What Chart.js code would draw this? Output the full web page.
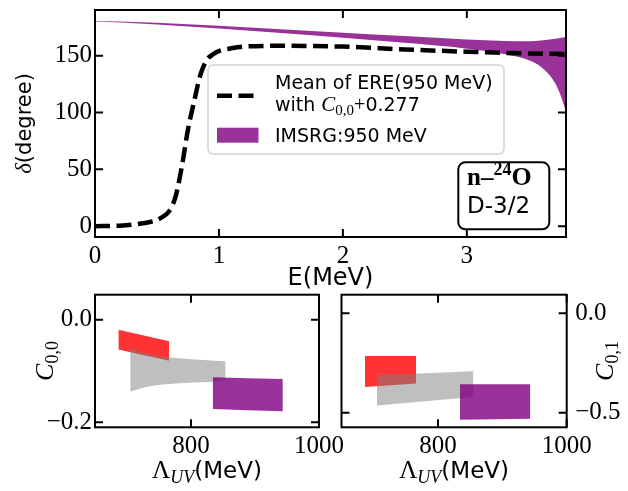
<!DOCTYPE html>
<html>
<head>
<meta charset="utf-8">
<script src="https://cdn.jsdelivr.net/npm/chart.js@4.4.1/dist/chart.umd.min.js"></script>
<style>
  html, body { margin: 0; padding: 0; background: #fff; }
  #wrap { position: relative; width: 628px; height: 491px; }
  #wrap canvas { position: absolute; left: 0; top: 0; }
</style>
</head>
<body>
<div id="wrap">
  <canvas id="phase" width="628" height="491"></canvas>
  <canvas id="c00" width="628" height="491"></canvas>
  <canvas id="c01" width="628" height="491"></canvas>
</div>
<script>
// --- Phasenverschiebung (oben) ---
const energy  = [0, 0.2, 0.3, 0.4, 0.5, 0.55, 0.6, 0.65, 0.7, 0.75, 0.8, 0.85, 0.9, 0.95, 1.0, 1.1, 1.2, 1.5, 2.0, 2.5, 3.0, 3.5, 3.8];
const ereMean = [0, 0.5, 1.3, 2.8, 5.5, 8.5, 13.5, 26, 52, 85, 110, 133, 146, 151, 154, 156.5, 158, 158.7, 158, 155.5, 153.5, 152, 151.5];

const bandE      = [0, 0.5, 1.0, 1.5, 2.0, 2.5, 3.0, 3.3, 3.5, 3.6, 3.7, 3.75, 3.8];
const imsrgUpper = [180.5, 179, 176.3, 173.3, 170.2, 167.3, 164.3, 163, 162.8, 163.3, 164.6, 165.5, 166.5];
const imsrgLower = [180, 177.5, 174, 170, 165.8, 161.3, 156.2, 151.5, 146, 140, 128, 117, 101];

const eTicks = [0, 1, 2, 3];
const deltaTicks = [0, 50, 100, 150];

// --- C_{0,0} / C_{0,1} gegen Lambda_UV (unten) ---
const lamRed = [686.5, 766];
const lamGrayC00 = [705, 730, 761, 790, 820, 854];
const lamGrayC01 = [705, 855];
const lamPurple = [834, 943.5];

const c00RedUpper = [-0.0195, -0.042];
const c00RedLower = [-0.058, -0.080];
const c00GrayUpper = [-0.055, -0.066, -0.0725, -0.076, -0.0785, -0.081];
const c00GrayLower = [-0.140, -0.131, -0.126, -0.1235, -0.122, -0.120];
const c00PurpleUpper = [-0.112, -0.1155];
const c00PurpleLower = [-0.174, -0.1785];

const c01RedUpper = [-0.2155, -0.2155];
const c01RedLower = [-0.371, -0.3535];
const c01GrayUpper = [-0.312, -0.291];
const c01GrayLower = [-0.463, -0.421];
const c01PurpleUpper = [-0.357, -0.357];
const c01PurpleLower = [-0.535, -0.530];

const lamTicks = [800, 1000];
const c00Ticks = [0.0, -0.2];
const c01Ticks = [0.0, -0.5];

// --- Stil ---
const W = 628, H = 491;
const SANS = "'DejaVu Sans'";
const SERIF = "'Liberation Serif'";
const tickFont = { family: 'Liberation Serif', size: 25 };
const PURPLE = 'rgba(128,0,128,0.8)';
const RED = 'rgba(255,0,0,0.8)';
const GRAY = 'rgba(128,128,128,0.5)';
const NONE = 'rgba(0,0,0,0)';

function pts(xs, ys) { return xs.map((x, i) => ({ x: x, y: ys[i] })); }

function bandSets(xs, up, lo, color) {
  return [
    { data: pts(xs, up), fill: '+1', backgroundColor: color, borderColor: NONE, borderWidth: 0, pointRadius: 0, cubicInterpolationMode: 'monotone' },
    { data: pts(xs, lo), fill: false, borderColor: NONE, borderWidth: 0, pointRadius: 0, cubicInterpolationMode: 'monotone' }
  ];
}

function zeroPad(s) { s.paddingTop = 0; s.paddingBottom = 0; s.paddingLeft = 0; s.paddingRight = 0; }

function fmt1(v) { return (v < 0 ? '\u2212' : '') + Math.abs(v).toFixed(1); }

function scaleOpts(axis, pos, min, max, ticks, format, size, pad) {
  return {
    type: 'linear', position: pos, min: min, max: max,
    grid: { display: false, drawTicks: false },
    border: { display: false },
    ticks: { font: tickFont, color: '#000', padding: pad, autoSkip: false, maxRotation: 0, callback: format },
    afterBuildTicks: s => { s.ticks = ticks.map(v => ({ value: v })); },
    afterFit: s => { if (axis === 'x') s.height = size; else s.width = size; zeroPad(s); }
  };
}

// Rahmen mit nach innen zeigenden Ticks (wie matplotlib)
const frame = {
  id: 'frame',
  afterDatasetsDraw(chart) {
    const { ctx, chartArea: a, scales } = chart;
    const len = 8;
    ctx.save();
    ctx.strokeStyle = '#000';
    ctx.lineWidth = 2;
    ctx.beginPath();
    scales.x.ticks.forEach(t => {
      const px = scales.x.getPixelForValue(t.value);
      ctx.moveTo(px, a.bottom); ctx.lineTo(px, a.bottom - len);
      ctx.moveTo(px, a.top); ctx.lineTo(px, a.top + len);
    });
    scales.y.ticks.forEach(t => {
      const py = scales.y.getPixelForValue(t.value);
      ctx.moveTo(a.left, py); ctx.lineTo(a.left + len, py);
      ctx.moveTo(a.right, py); ctx.lineTo(a.right - len, py);
    });
    ctx.stroke();
    ctx.strokeRect(a.left, a.top, a.right - a.left, a.bottom - a.top);
    ctx.restore();
  }
};

function richText(ctx, parts, x, y, align, angle) {
  ctx.save();
  ctx.translate(x, y);
  ctx.rotate(angle || 0);
  ctx.textAlign = 'left';
  ctx.textBaseline = 'alphabetic';
  ctx.fillStyle = '#000';
  let total = 0;
  const widths = parts.map(p => { ctx.font = p.font; const w = ctx.measureText(p.text).width; total += w; return w; });
  let cx = align === 'center' ? -total / 2 : 0;
  parts.forEach((p, i) => { ctx.font = p.font; ctx.fillText(p.text, cx, p.dy || 0); cx += widths[i]; });
  ctx.restore();
}

function roundRectPath(ctx, x, y, w, h, r) {
  ctx.beginPath();
  ctx.moveTo(x + r, y);
  ctx.lineTo(x + w - r, y); ctx.arcTo(x + w, y, x + w, y + r, r);
  ctx.lineTo(x + w, y + h - r); ctx.arcTo(x + w, y + h, x + w - r, y + h, r);
  ctx.lineTo(x + r, y + h); ctx.arcTo(x, y + h, x, y + h - r, r);
  ctx.lineTo(x, y + r); ctx.arcTo(x, y, x + r, y, r);
  ctx.closePath();
}

function makeChart(id, datasets, xScale, yScale, padding, decor) {
  return new Chart(document.getElementById(id), {
    type: 'line',
    data: { datasets: datasets },
    options: {
      responsive: false, animation: false, devicePixelRatio: 1,
      layout: { padding: padding },
      plugins: { legend: { display: false }, tooltip: { enabled: false } },
      scales: { x: xScale, y: yScale }
    },
    plugins: [frame, { id: 'decor', afterDraw: decor }]
  });
}

// Chart oben: Bereich x 95..566, y 10..237
makeChart('phase',
  [
    { data: pts(energy, ereMean), borderColor: '#000', borderWidth: 4.5, borderDash: [15, 6.5], borderCapStyle: 'butt',
      pointRadius: 0, fill: false, cubicInterpolationMode: 'monotone' }
  ].concat(bandSets(bandE, imsrgUpper, imsrgLower, PURPLE)),
  scaleOpts('x', 'bottom', 0, 3.8, eTicks, v => String(v), H - 237, 4),
  scaleOpts('y', 'left', -9.5, 190.2, deltaTicks, v => String(v), 95, 3),
  { left: 0, right: W - 566, top: 10, bottom: 0 },
  chart => {
    const ctx = chart.ctx, a = chart.chartArea;
    richText(ctx, [{ text: 'δ', font: 'italic 23px ' + SERIF }, { text: '(degree)', font: '21px ' + SANS }],
      31, (a.top + a.bottom) / 2, 'center', -Math.PI / 2);
    richText(ctx, [{ text: 'E(MeV)', font: '24px ' + SANS }], (a.left + a.right) / 2, 285, 'center');

    // Legende
    ctx.save();
    roundRectPath(ctx, 208, 65, 296, 89, 5);
    ctx.fillStyle = 'rgba(255,255,255,0.8)';
    ctx.fill();
    ctx.strokeStyle = 'rgba(204,204,204,0.9)';
    ctx.lineWidth = 1.5;
    ctx.stroke();
    ctx.beginPath();
    ctx.setLineDash([15, 6.5]);
    ctx.lineWidth = 4.5;
    ctx.strokeStyle = '#000';
    ctx.moveTo(217, 95.7); ctx.lineTo(258.5, 95.7);
    ctx.stroke();
    ctx.setLineDash([]);
    ctx.fillStyle = PURPLE;
    ctx.fillRect(217, 127.7, 41.5, 15);
    ctx.restore();
    richText(ctx, [{ text: 'Mean of ERE(950 MeV)', font: '19px ' + SANS }], 275, 89);
    richText(ctx, [
      { text: 'with ', font: '19px ' + SANS },
      { text: 'C', font: 'italic 21px ' + SERIF },
      { text: '0,0', font: '15px ' + SERIF, dy: 4 },
      { text: '+', font: '20px ' + SERIF },
      { text: '0.277', font: '19px ' + SANS }
    ], 275, 111);
    richText(ctx, [{ text: 'IMSRG:950 MeV', font: '19px ' + SANS }], 275, 141.7);

    // Textbox
    ctx.save();
    roundRectPath(ctx, 458.3, 162.3, 91, 67, 7);
    ctx.fillStyle = '#fff';
    ctx.fill();
    ctx.lineWidth = 2;
    ctx.strokeStyle = '#000';
    ctx.stroke();
    ctx.restore();
    richText(ctx, [
      { text: 'n', font: 'bold 25px ' + SERIF },
      { text: '\u2013', font: 'bold 25px ' + SERIF },
      { text: '24', font: 'bold 18px ' + SERIF, dy: -10 },
      { text: 'O', font: 'bold 26px ' + SERIF }
    ], 467, 185);
    richText(ctx, [{ text: 'D-3/2', font: '23px ' + SANS }], 467, 213.3);
  }
);

// Chart unten links: C_{0,0}
makeChart('c00',
  bandSets(lamPurple, c00PurpleUpper, c00PurpleLower, PURPLE)
    .concat(bandSets(lamGrayC00, c00GrayUpper, c00GrayLower, GRAY))
    .concat(bandSets(lamRed, c00RedUpper, c00RedLower, RED)),
  scaleOpts('x', 'bottom', 650, 1000, lamTicks, v => String(v), H - 427.3, 4),
  scaleOpts('y', 'left', -0.2097, 0.0487, c00Ticks, fmt1, 95, 3),
  { left: 0, right: W - 319, top: 294.7, bottom: 0 },
  chart => {
    const ctx = chart.ctx, a = chart.chartArea;
    richText(ctx, [
      { text: 'Λ', font: '25px ' + SERIF },
      { text: 'UV', font: 'italic 18px ' + SERIF, dy: 5 },
      { text: '(MeV)', font: '23px ' + SANS }
    ], (a.left + a.right) / 2, 478, 'center');
    richText(ctx, [
      { text: 'C', font: 'italic 26px ' + SERIF },
      { text: '0,0', font: '18px ' + SERIF, dy: 5 }
    ], 53, (a.top + a.bottom) / 2, 'center', -Math.PI / 2);
  }
);

// Chart unten rechts: C_{0,1}
makeChart('c01',
  bandSets(lamPurple, c01PurpleUpper, c01PurpleLower, PURPLE)
    .concat(bandSets(lamGrayC01, c01GrayUpper, c01GrayLower, GRAY))
    .concat(bandSets(lamRed, c01RedUpper, c01RedLower, RED)),
  scaleOpts('x', 'bottom', 650, 1000, lamTicks, v => String(v), H - 427.3, 4),
  scaleOpts('y', 'right', -0.5727, 0.0926, c01Ticks, fmt1, W - 566.7, 8.5),
  { left: 341.5, right: 0, top: 294.7, bottom: 0 },
  chart => {
    const ctx = chart.ctx, a = chart.chartArea;
    richText(ctx, [
      { text: 'Λ', font: '25px ' + SERIF },
      { text: 'UV', font: 'italic 18px ' + SERIF, dy: 5 },
      { text: '(MeV)', font: '23px ' + SANS }
    ], (a.left + a.right) / 2, 478, 'center');
    richText(ctx, [
      { text: 'C', font: 'italic 26px ' + SERIF },
      { text: '0,1', font: '18px ' + SERIF, dy: 5 }
    ], 613, (a.top + a.bottom) / 2, 'center', -Math.PI / 2);
  }
);
</script>
</body>
</html>
